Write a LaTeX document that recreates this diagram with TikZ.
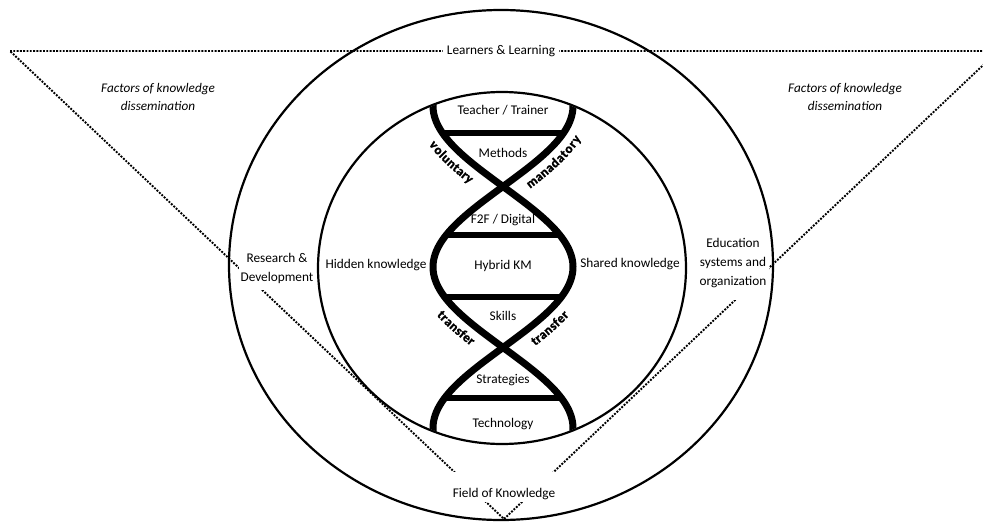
\documentclass[tikz,border=0pt]{standalone}
\usepackage{fontspec}
\setmainfont{Carlito}
\newfontfamily\heavyfam[FakeBold=1.5]{Carlito}
\newcommand\twistfont{\fontsize{13}{13}\selectfont\heavyfam\bfseries}
\usetikzlibrary{decorations.text}
\begin{document}
\begin{tikzpicture}[x=1pt,y=-1pt,
  lab/.style={font=\fontsize{13.3}{19}\selectfont, inner sep=1pt, align=center},
  wlab/.style={lab, fill=white},
  cover/.style={font=\fontsize{13.3}{19}\selectfont, fill=white},
  ital/.style={lab, font=\fontsize{13.2}{18}\selectfont\itshape},
  dotline/.style={line width=1.9pt, dash pattern=on 1.9pt off 1.4pt},
  ring/.style={line width=2.2pt},
  strand/.style={line width=7pt},
  rung/.style={line width=5.5pt},
  twist/.style={decorate, decoration={text along path, text align=center, raise=-18pt}}]
\useasboundingbox (0,0) rectangle (983,522);
\clip (0,0) rectangle (983,522);
% dotted triangle
\coordinate (TL) at (10,51);
\coordinate (TR) at (998,51);
\coordinate (AP) at (504,519);
\draw[dotline] (TL) -- (TR) -- (AP) -- cycle;
% labels covering the dotted lines
\node[wlab, inner xsep=4pt, inner ysep=3pt] (learn) at (501,51) {Learners \& Learning};
\node[wlab, inner xsep=2pt, inner ysep=7pt] (rd) at (277,268) {Research \&\\Development};
\node[wlab, inner xsep=3pt, inner ysep=12pt] (edu) at (733,263) {Education\\systems and\\organization};
\node[cover, inner xsep=3pt, inner ysep=0pt, text height=25pt, text depth=5pt, anchor=base] (field) at (504,497) {Field of Knowledge};
\node[ital] (factL) at (158,97) {Factors of knowledge\\dissemination};
\node[ital] (factR) at (845,97) {Factors of knowledge\\dissemination};
\node[lab] (hidden) at (376,265) {Hidden knowledge};
\node[lab] (shared) at (630,264) {Shared knowledge};
% helix
\begin{scope}
\clip (502,268) ellipse [x radius=183pt, y radius=175pt];
\draw[strand] plot[variable=\t, domain=96:440, samples=140, smooth] ({503+70*cos(1.118*(\t-267))}, \t);
\draw[strand] plot[variable=\t, domain=96:440, samples=140, smooth] ({503-70*cos(1.118*(\t-267))}, \t);
\end{scope}
\draw[rung] (443,133) -- (563,133);
\draw[rung] (446,235) -- (560,235);
\draw[rung] (445,297) -- (561,297);
\draw[rung] (443,398) -- (563,398);
% circles
\draw[ring] (501,265) ellipse [x radius=272pt, y radius=255pt];
\draw[ring] (502,268) ellipse [x radius=184pt, y radius=176pt];
% helix labels
\node[lab] (teacher) at (503,110) {Teacher / Trainer};
\node[lab] (methods) at (503,153) {Methods};
\node[lab] (f2f) at (503,220) {F2F / Digital};
\node[lab] (hybrid) at (503,266) {Hybrid KM};
\node[lab] (skills) at (503,316) {Skills};
\node[lab] (strat) at (503,380) {Strategies};
\node[lab] (tech) at (503,424) {Technology};
% strand labels, curved along the strands
\path[twist, decoration={text={|\twistfont|voluntary}}]
  (434.6,117) .. controls (440.8,138.3) and (466.5,159.7) .. (495.5,181);
\path[twist, decoration={text={|\twistfont|manadatory}}]
  (506.4,184) .. controls (538.2,160.7) and (567.3,137.3) .. (572.2,114);
\path[twist, decoration={text={|\twistfont|transfer}}]
  (437.3,285) .. controls (446.7,305) and (472.3,325) .. (499.6,345);
\path[twist, decoration={text={|\twistfont|transfer}}]
  (506.4,345) .. controls (533.7,325) and (559.3,305) .. (568.7,285);
\end{tikzpicture}
\end{document}
